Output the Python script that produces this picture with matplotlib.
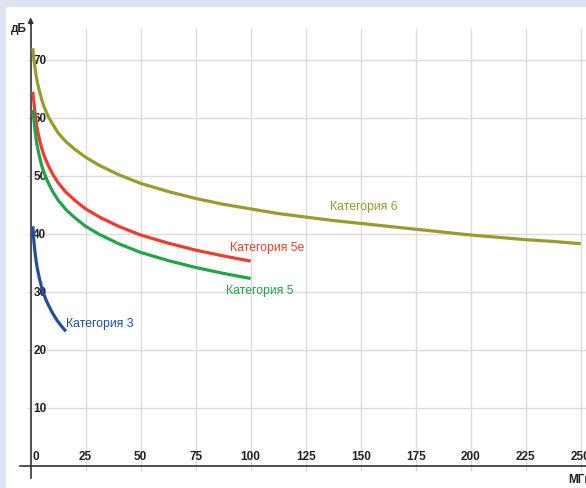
import matplotlib.pyplot as plt

# NEXT values (dB), frequency in MHz
freq_cat6 = [1, 1.25, 1.5, 2, 2.5, 3, 4, 5, 6, 8, 10, 12.5, 16, 20, 25, 31.25, 40, 50, 62.5, 75,
             87.5, 100, 112.5, 125, 137.5, 150, 162.5, 175, 187.5, 200, 212.5, 225, 237.5, 250]
next_cat6 = [72.0, 71.0, 70.0, 68.5, 67.3, 66.2, 64.6, 63.2, 62.0, 60.2, 58.9, 57.4, 55.9, 54.6, 53.2,
             51.8, 50.2, 48.7, 47.3, 46.1, 45.1, 44.3, 43.5, 42.9, 42.3, 41.8, 41.3, 40.8, 40.3,
             39.8, 39.4, 39.0, 38.7, 38.3]

freq_cat5e = [1, 1.25, 1.5, 2, 2.5, 3, 4, 5, 6, 8, 10, 12.5, 16, 20, 25, 31.25, 40, 50, 62.5, 75, 87.5, 100]
next_cat5e = [64.5, 63.5, 62.6, 60.8, 59.3, 58.1, 56.3, 54.8, 53.6, 51.8, 50.3, 48.8, 47.2, 45.8,
              44.3, 42.9, 41.3, 39.8, 38.4, 37.2, 36.2, 35.3]

freq_cat5 = [1, 1.25, 1.5, 2, 2.5, 3, 4, 5, 6, 8, 10, 12.5, 16, 20, 25, 31.25, 40, 50, 62.5, 75, 87.5, 100]
next_cat5 = [61.4, 60.5, 59.6, 57.8, 56.3, 55.1, 53.3, 51.8, 50.6, 48.8, 47.3, 45.8, 44.2, 42.8,
             41.3, 39.9, 38.3, 36.8, 35.4, 34.2, 33.2, 32.3]

freq_cat3 = [1, 1.25, 1.5, 2, 2.5, 3, 4, 5, 6, 7, 8, 10, 12, 14, 16]
next_cat3 = [41.3, 39.9, 38.6, 36.8, 35.3, 34.1, 32.3, 30.8, 29.6, 28.6, 27.8, 26.3, 25.1, 24.1, 23.2]

x_ticks = [25, 50, 75, 100, 125, 150, 175, 200, 225, 250]
y_ticks = [10, 20, 30, 40, 50, 60, 70]

labels = ['Категория 6', 'Категория 5e', 'Категория 5', 'Категория 3']
label_pos = [(136, 44.8), (90.5, 37.7), (89, 30.4), (16, 24.7)]
colors = ['#9b9a2c', '#f03c2c', '#20a54a', '#1f4e9f']

fig = plt.figure(figsize=(5.86, 4.89), dpi=100, facecolor='#dbe5f2')
ax = fig.add_axes([6 / 586, 0, 580 / 586, 481 / 489])
ax.set_facecolor('white')
ax.set_xlim(-11.2, 252.4)
ax.set_ylim(-3.8, 79.1)
for s in ax.spines.values():
    s.set_visible(False)
ax.set_xticks([])
ax.set_yticks([])

# grid
ax.vlines(x_ticks, -0.8, 75.5, color='#dcdcdc', lw=1, zorder=1)
ax.hlines(y_ticks, -1.8, 252.4, color='#dcdcdc', lw=1, zorder=1)

# axes lines
ax.plot([-5, 252.4], [0, 0], color='#333333', lw=1.2, zorder=2)
ax.plot([0, 0], [-2, 76.5], color='#333333', lw=1.2, zorder=2)
ax.annotate('', xy=(0, 77.8), xytext=(0, 75.5),
            arrowprops=dict(arrowstyle='-|>', color='#333333', lw=1, mutation_scale=8))

tick_font = dict(family=['Liberation Sans Narrow', 'Liberation Sans'], fontsize=8.5,
                 fontweight='bold', color='#222222')
for xt in x_ticks:
    ax.text(xt, 1.7, str(xt), ha='center', va='center', **tick_font)
ax.text(0.8, 1.7, '0', ha='left', va='center', **tick_font)
for yt in y_ticks:
    ax.text(1.2, yt, str(yt), ha='left', va='center', **tick_font)

ax.text(-1.8, 75.5, 'дБ', ha='right', va='center', **tick_font)
ax.text(244.5, -2.3, 'МГц', ha='left', va='center', **tick_font)

# curves
series = [(freq_cat6, next_cat6), (freq_cat5e, next_cat5e),
          (freq_cat5, next_cat5), (freq_cat3, next_cat3)]
for (f, v), c, lab, pos in zip(series, colors, labels, label_pos):
    ax.plot(f, v, color=c, lw=2.3, solid_capstyle='butt', solid_joinstyle='round', zorder=3)
    ax.text(pos[0], pos[1], lab, color=c, fontsize=8.8, ha='left', va='center',
            family=['Liberation Sans'])

plt.savefig('out.png', dpi=100, facecolor=fig.get_facecolor())
